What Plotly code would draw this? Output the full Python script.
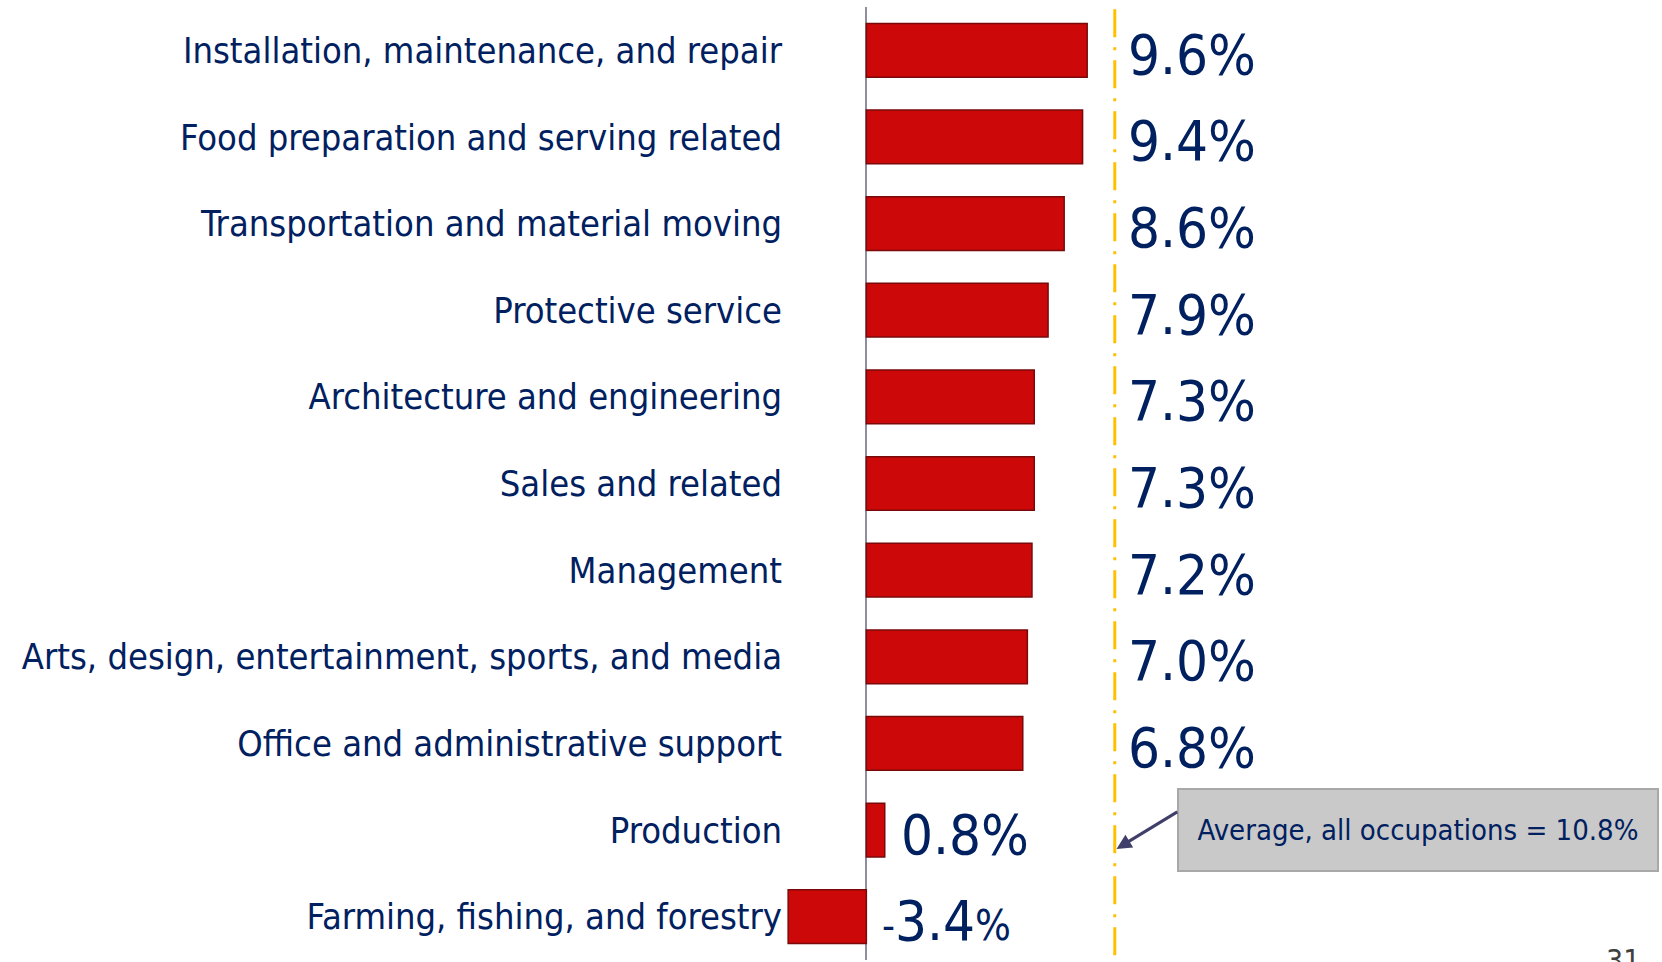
import plotly.graph_objects as go

# ── Data ──────────────────────────────────────────────────────────────────────
occupations = [
    "Installation, maintenance, and repair",
    "Food preparation and serving related",
    "Transportation and material moving",
    "Protective service",
    "Architecture and engineering",
    "Sales and related",
    "Management",
    "Arts, design, entertainment, sports, and media",
    "Office and administrative support",
    "Production",
    "Farming, fishing, and forestry",
]
growth = [9.6, 9.4, 8.6, 7.9, 7.3, 7.3, 7.2, 7.0, 6.8, 0.8, -3.4]
AVG = 10.8
avg_text = "Average, all occupations = 10.8%"
page_no = "31"

NAVY = "#002060"
FONT = "DejaVu Sans Condensed"

# labels for the long bars sit right of the average line, short ones by the bar
label_x = [AVG + 0.5 if v > 5 else max(v, 0) + 0.6 for v in growth]
label_txt = []
for v in growth:
    if v < 0:
        label_txt.append("<span style='font-size:40px'>-</span>%.1f"
                         "<span style='font-size:42px'>%%</span>" % abs(v))
    else:
        label_txt.append("%.1f%%" % v)

# ── Plot ──────────────────────────────────────────────────────────────────────
fig = go.Figure()

fig.add_trace(go.Bar(
    x=growth, y=occupations, orientation="h",
    marker=dict(color="#CC0808", line=dict(color="#7A0A0A", width=1.5)),
    width=0.62, hoverinfo="skip",
))

for lx, occ, txt in zip(label_x, occupations, label_txt):
    fig.add_annotation(
        x=lx, y=occ, text=txt, showarrow=False, xanchor="left",
        yshift=-4, font=dict(family=FONT, size=56, color=NAVY),
    )

# average line
fig.add_shape(
    type="line", xref="x", yref="paper", x0=AVG, x1=AVG, y0=0.005, y1=1,
    line=dict(color="#FFC000", width=3, dash="28px,10px,3px,10px"),
)

# callout box and its arrow
fig.add_annotation(
    xref="paper", yref="y", x=1, y=occupations[9], xanchor="right",
    xshift=-3, yshift=0, text=avg_text, showarrow=False,
    font=dict(family=FONT, size=29, color=NAVY),
    bgcolor="#C9C9C9", bordercolor="#A8A8A8", borderwidth=2,
    width=474, height=76, borderpad=2,
)
fig.add_annotation(
    xref="x", yref="y", x=AVG, y=9.23, text="", showarrow=True,
    ax=64, ay=-39, arrowhead=2, arrowsize=1, arrowwidth=3,
    arrowcolor="#3F3F6A", standoff=2,
)

fig.add_annotation(
    xref="paper", yref="paper", x=1, y=0, xanchor="right", yanchor="top",
    xshift=-20, yshift=19, text=page_no, showarrow=False,
    font=dict(family=FONT, size=30, color="#404040"),
)

fig.update_layout(
    width=1662, height=962,
    margin=dict(l=787, r=0, t=7, b=2),
    paper_bgcolor="white", plot_bgcolor="white",
    showlegend=False, bargap=0.38,
)
fig.update_xaxes(
    range=[-3.45, 34.59], showgrid=False, showticklabels=False,
    zeroline=True, zerolinecolor="#8E8E9E", zerolinewidth=2,
    fixedrange=True,
)
fig.update_yaxes(
    type="category", autorange="reversed", showgrid=False, ticks="",
    ticklabelstandoff=4,
    tickfont=dict(family=FONT, size=36, color=NAVY),
    fixedrange=True,
)

fig.write_html("out.html", config={"displayModeBar": False},
               post_script="document.body.style.margin='0px';")
